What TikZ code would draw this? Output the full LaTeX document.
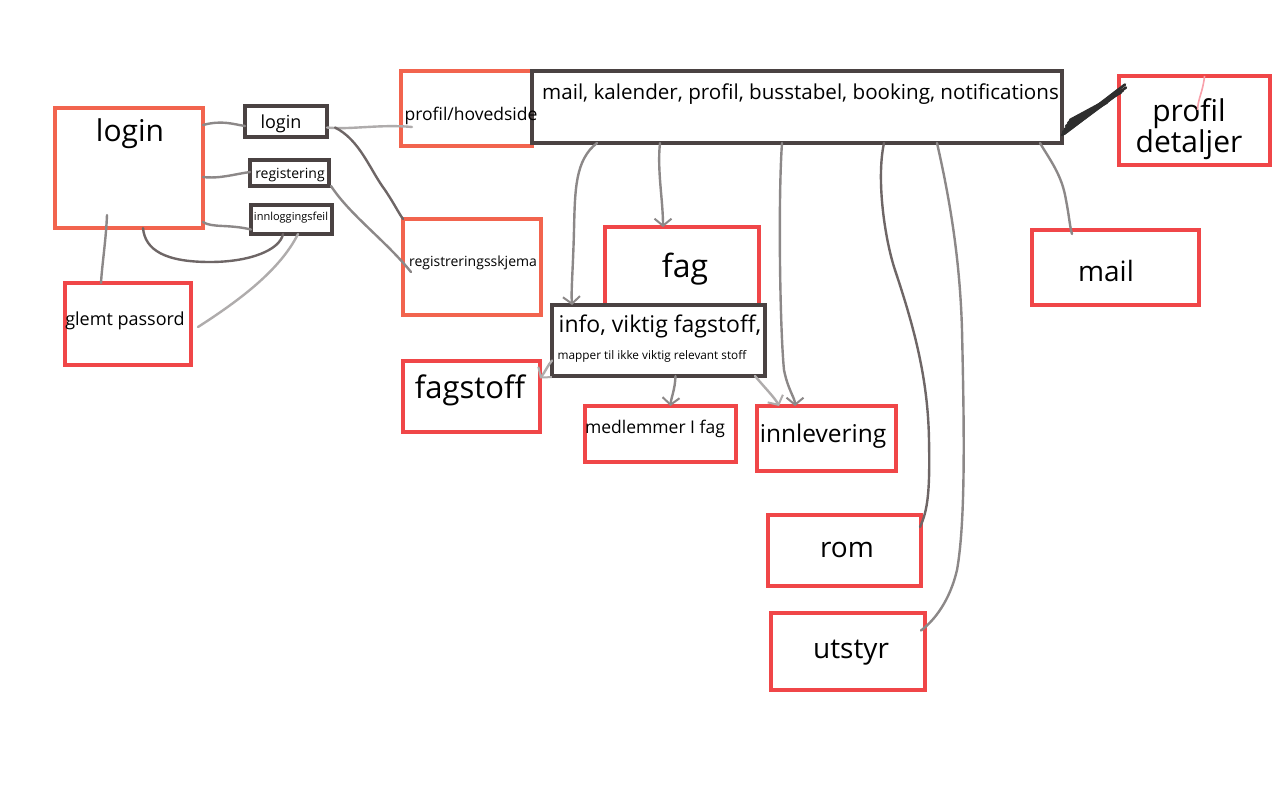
\documentclass[tikz,border=0pt]{standalone}
\usepackage{fontspec}
\setmainfont{Open Sans}
\usetikzlibrary{arrows.meta}
\definecolor{boxred}{RGB}{240,70,72}
\definecolor{boxorange}{RGB}{242,100,78}
\definecolor{boxdark}{RGB}{74,66,66}
\definecolor{lnmid}{RGB}{140,136,136}
\definecolor{lndark}{RGB}{110,102,102}
\definecolor{lnlight}{RGB}{175,172,172}
\definecolor{lnpink}{RGB}{248,160,170}
\tikzset{
  bx/.style={draw, line width=4pt, inner sep=0pt, outer sep=0pt, fill=white},
  redbox/.style={bx, draw=boxred},
  orbox/.style={bx, draw=boxorange},
  dkbox/.style={bx, draw=boxdark},
  txt/.style={inner sep=0pt, text=black},
  conn/.style={draw=lnmid, line width=2.4pt, line cap=round, line join=round},
  connd/.style={conn, draw=lndark},
  connl/.style={conn, draw=lnlight},
  arr/.style={-{Straight Barb[length=7pt,width=17pt,line width=2pt]}},
  fs/.style={font=\fontsize{#1}{#1}\selectfont}
}
\begin{document}
\begin{tikzpicture}[x=1pt,y=-1pt]
\useasboundingbox[fill=white] (0,0) rectangle (1280,800);

% boxes
\node[orbox, minimum width=148, minimum height=120] (loginB) at (129,168) {};
\node[dkbox, minimum width=82, minimum height=31] (loginS) at (286,121.5) {};
\node[dkbox, minimum width=79, minimum height=26] (reg) at (289.5,173) {};
\node[dkbox, minimum width=81, minimum height=29] (feil) at (291.5,219.5) {};
\node[redbox, minimum width=126, minimum height=82] (glemt) at (128,324) {};
\node[orbox, minimum width=131, minimum height=75] (profil) at (466.5,108.5) {};
\node[dkbox, minimum width=530, minimum height=72, fill=none] (bar) at (797,107) {};
\node[redbox, minimum width=151, minimum height=89] (detalj) at (1194.5,120.5) {};
\node[orbox, minimum width=138, minimum height=96] (skjema) at (472,267) {};
\node[redbox, minimum width=154, minimum height=78] (fag) at (682,266) {};
\node[dkbox, minimum width=213, minimum height=71] (info) at (658.5,340.5) {};
\node[redbox, minimum width=137, minimum height=71] (fagstoff) at (471.5,396.5) {};
\node[redbox, minimum width=151, minimum height=56] (medl) at (660.5,434) {};
\node[redbox, minimum width=139, minimum height=65] (innl) at (826.5,438.5) {};
\node[redbox, minimum width=153, minimum height=71] (rom) at (844.5,550.5) {};
\node[redbox, minimum width=154, minimum height=77] (utstyr) at (848,651.5) {};
\node[redbox, minimum width=167, minimum height=75] (mail) at (1115.5,267.5) {};

% texts
\node[txt, fs=30] (tloginB) at (130,134) {login};
\node[txt, fs=18] (tloginS) at (281,124) {login};
\node[txt, fs=14] (treg) at (290,175) {registering};
\node[txt, fs=11] (tfeil) at (291,218) {innloggingsfeil};
\node[txt, fs=18] (tglemt) at (125,321) {glemt passord};
\node[txt, fs=17.5] (tprofil) at (471,116) {profil/hovedside};
\node[txt, fs=20.6, anchor=west] (tbar) at (542,94) {mail, kalender, profil, busstabel, booking, notifications};
\node[txt, font=\fontsize{30}{22}\selectfont, align=center] (tdet) at (1189,129) {profil\\detaljer};
\node[txt, fs=14] (tskjema) at (473,263) {registreringsskjema};
\node[txt, fs=32] (tfag) at (685,269) {fag};
\node[txt, fs=23] (tinfo1) at (660,326) {info, viktig fagstoff,};
\node[txt, fs=11.8] (tinfo2) at (652,356) {mapper til ikke viktig relevant stoff};
\node[txt, fs=31] (tfagstoff) at (470,390) {fagstoff};
\node[txt, fs=17.5] (tmedl) at (655,429) {medlemmer I fag};
\node[txt, fs=24.5] (tinnl) at (823,436) {innlevering};
\node[txt, fs=28] (trom) at (847,550) {rom};
\node[txt, fs=28] (tutstyr) at (851,653) {utstyr};
\node[txt, fs=28] (tmail) at (1106,271) {mail};

% left connectors
\draw[conn] ([yshift=43pt]loginB.east) .. controls (222,120) and (232,124) .. ([yshift=-4.5pt]loginS.west);
\draw[conn] ([yshift=-9pt]loginB.east) .. controls (220,179) and (235,174) .. ([yshift=1pt]reg.west);
\draw[conn] ([yshift=6pt]loginB.south east) .. controls (212,228) and (228,224) .. ([yshift=-10pt]feil.west);
\draw[connd] ([xshift=14pt]loginB.south) .. controls (145,250) and (165,262) .. (210,262) .. controls (250,262) and (280,250) .. ([xshift=-8.5pt]feil.south);
\draw[connl] ([xshift=6.5pt]feil.south) .. controls (280,270) and (240,300) .. ([xshift=7pt,yshift=-3pt]glemt.east);
\draw[conn] ([xshift=-22pt,yshift=13pt]loginB.south) .. controls (106,240) and (102,265) .. ([xshift=-27pt]glemt.north);
\draw[connl] ([yshift=-6pt]loginS.east) .. controls (350,130) and (380,124) .. ([xshift=11pt,yshift=-18.5pt]profil.west);
\draw[connd] ([xshift=8pt,yshift=-6pt]loginS.east) .. controls (360,140) and (370,170) .. (385,190) .. controls (395,205) and (398,212) .. (skjema.north west);
\draw[conn] ([xshift=2pt]reg.south east) .. controls (350,215) and (385,240) .. ([xshift=8pt,yshift=-5pt]skjema.west);

% arrows from bar
\draw[conn, arr] ([xshift=-200pt]bar.south) .. controls (575,160) and (575,190) .. (574,230) .. controls (573,270) and (571,290) .. ([xshift=-86.5pt]info.north);
\draw[conn, arr] ([xshift=-137pt]bar.south) .. controls (657,170) and (663,200) .. ([xshift=-19pt]fag.north);
\draw[conn, arr] ([xshift=-15pt]bar.south) .. controls (778,200) and (780,330) .. (784,370) .. controls (788,390) and (795,398) .. ([xshift=-31.5pt]innl.north);
\draw[conn, arr] ([xshift=17pt]info.south) .. controls (675,390) and (671,398) .. ([xshift=10pt]medl.north);
\draw[connl, arr] ([xshift=-10pt]info.south east) .. controls (765,388) and (775,398) .. ([xshift=22pt]innl.north west);
\draw[connl, arr] ([yshift=-20pt]info.west) .. controls (548,365) and (545,372) .. ([yshift=18pt]fagstoff.east);
\draw[connd] ([xshift=87pt]bar.south) .. controls (876,180) and (885,240) .. (895,270) .. controls (915,330) and (928,380) .. (929,440) .. controls (930,490) and (928,510) .. ([xshift=-1pt,yshift=-12pt]rom.north east);
\draw[conn] ([xshift=140pt]bar.south) .. controls (950,200) and (960,260) .. (962,330) .. controls (964,420) and (966,520) .. (957,570) .. controls (950,600) and (935,620) .. ([xshift=-4pt,yshift=21pt]utstyr.east);
\draw[conn] ([xshift=243pt]bar.south) .. controls (1050,160) and (1062,175) .. (1066,200) .. controls (1069,215) and (1070,228) .. ([xshift=-43.5pt,yshift=-4pt]mail.north);

% scribble to profil detaljer
\foreach \sx/\sy/\ex/\ey in {0/-28/-2/26, 3/-22/4/30, 6/-16/-8/22, 1/-25/6/36, 4/-19/-12/18, 8/-13/2/28, 2/-27/-6/24, 5/-21/7/33, 7/-15/-10/20, 3/-24/0/31}{
  \draw[draw=black!82, line width=2.6pt, line cap=round] ([xshift=\sx pt,yshift=\sy pt]bar.east) -- ([xshift=\ex pt,yshift=\ey pt]detalj.west);
}
\draw[draw=lnpink, line width=1.6pt] ([xshift=10pt]detalj.north) .. controls (1203,92) and (1198,98) .. ([xshift=3pt,yshift=-34pt]detalj.north);
\end{tikzpicture}
\end{document}
